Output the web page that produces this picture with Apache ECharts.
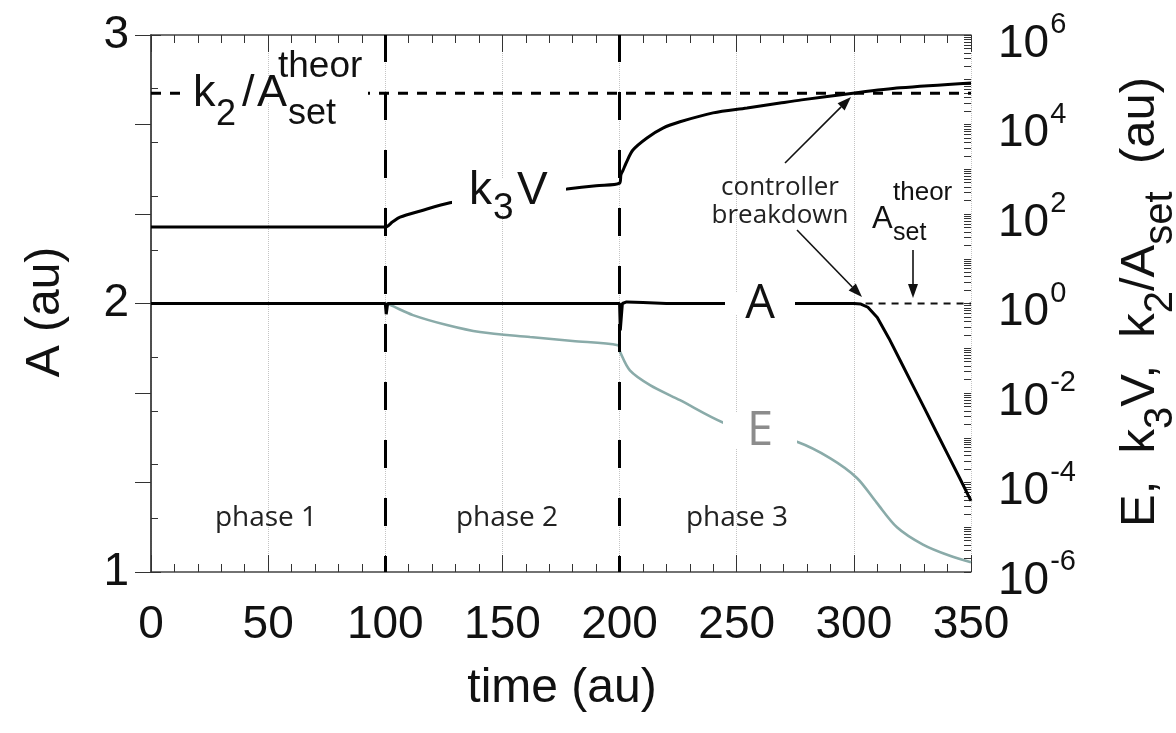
<!DOCTYPE html>
<html><head><meta charset="utf-8">
<script src="https://cdn.jsdelivr.net/npm/echarts@6/dist/echarts.min.js"></script>
<style>html,body{margin:0;padding:0;background:#fff}#c{width:1176px;height:733px}</style>
</head><body><div id="c"></div>
<script>
// ---------- data ----------
const phaseBounds = [100, 200];
const phaseNames = ['phase 1', 'phase 2', 'phase 3'];

const aTime   = [0, 100, 100.4, 101, 200, 200.3, 201.2, 203, 210, 220, 300, 303, 306, 310, 315, 320, 325, 330, 335, 340, 345, 350];
const aValues = [2, 2, 1.96, 2, 2, 1.90, 2.0, 2.006, 2.004, 2.0, 2.0, 1.998, 1.986, 1.948, 1.87, 1.784, 1.698, 1.612, 1.525, 1.439, 1.353, 1.265];

const k3vTime   = [0, 100, 103, 106.3, 115, 127.6, 140, 155, 165, 177.5, 190, 200, 200.6, 201.5, 202.8, 205.7, 211.7, 218.5, 225.8, 239.9, 254.4, 268.5, 277.7, 299.6, 319.7, 350];
const k3vValues = [51, 51, 66, 85, 117, 178, 224, 275, 309, 363, 430, 490, 760, 955, 1380, 2690, 5010, 8320, 11500, 18200, 23400, 30200, 35500, 50100, 66000, 85000];

const eTime   = [100, 102, 111.8, 126.3, 140.4, 161.8, 180, 199.3, 200.2, 204.4, 213, 225.8, 244.1, 260, 275.7, 289.8, 301.3, 309.8, 318.4, 329.5, 341, 350];
const eValues = [1, 0.93, 0.55, 0.33, 0.23, 0.178, 0.145, 0.117, 0.083, 0.032, 0.015, 0.0069, 0.0022, 0.0013, 8.1e-4, 3.5e-4, 1.26e-4, 3.5e-5, 1.0e-5, 4.1e-6, 2.3e-6, 1.66e-6];

const k2AsetTheorTime = [0, 350];
const k2AsetTheorValues = [5.0e4, 5.0e4];
const asetTheorTime = [305, 350];
const asetTheorValues = [2, 2];

const xTickInterval = 50;
const leftTicks = [1, 2, 3];
// ---------------------------------------------------

const SANS = "'Liberation Sans', Arial, Helvetica, sans-serif";
const HUM = "'Open Sans', 'Noto Sans', sans-serif";
const zip = (a, b) => a.map((v, i) => [v, b[i]]);

const chart = echarts.init(document.getElementById('c'), null, {renderer: 'canvas'});

function T(x, y, text, size, opts) {
  opts = opts || {};
  return {
    type: 'text', x: x, y: y, z: 50, rotation: opts.rotation || 0,
    style: {
      text: text, fontSize: size, fontFamily: opts.family || SANS, fill: opts.color || '#111',
      align: opts.align || 'left', verticalAlign: 'middle',
      textAlign: opts.align || 'left', textVerticalAlign: 'middle', rich: opts.rich
    }
  };
}
function R(x, y, w, h) {
  return {type: 'rect', z: 40, shape: {x: x, y: y, width: w, height: h}, style: {fill: '#fff'}};
}
function arrow(x1, y1, x2, y2) {
  const dx = x2 - x1, dy = y2 - y1, L = Math.hypot(dx, dy), ux = dx / L, uy = dy / L;
  const hl = 14, hw = 5;
  const bx = x2 - ux * hl, by = y2 - uy * hl;
  return [
    {type: 'line', z: 45, shape: {x1: x1, y1: y1, x2: bx, y2: by}, style: {stroke: '#111', lineWidth: 1.6}},
    {type: 'polygon', z: 45, shape: {points: [[x2, y2], [bx - uy * hw, by + ux * hw], [bx + uy * hw, by - ux * hw]]}, style: {fill: '#111'}}
  ];
}

const sub = {fontSize: 40, fontFamily: SANS, color: '#111', padding: [42, 0, 0, 0]};
const main = {fontSize: 49, fontFamily: SANS, color: '#111'};

const graphics = [
  // k2/Aset theor label (gap in dashed line)
  R(183, 84, 185, 18),
  T(193, 94, 'k', 45),
  T(216, 115, '2', 36),
  T(242, 94, '/', 45),
  T(257, 94, 'A', 45),
  T(288, 114, 'set', 36),
  T(278, 67, 'theor', 37),
  // k3V label
  R(452, 178, 114, 34),
  T(469, 191, 'k', 46),
  T(493, 209, '3', 37),
  T(517, 191, 'V', 46),
  // A label
  R(725, 292, 70, 22),
  T(760, 305, 'A', 47, {family: HUM, align: 'center'}),
  // E label
  R(723, 412, 74, 36),
  T(760, 432, 'E', 47, {family: HUM, align: 'center', color: '#8c8c8c'}),
  // phases
  T(266, 518, phaseNames[0], 28, {family: HUM, align: 'center', color: '#222'}),
  T(507, 518, phaseNames[1], 28, {family: HUM, align: 'center', color: '#222'}),
  T(737, 518, phaseNames[2], 28, {family: HUM, align: 'center', color: '#222'}),
  // controller breakdown
  T(780, 188, 'controller', 26, {family: HUM, align: 'center', color: '#222'}),
  T(780, 216, 'breakdown', 26, {family: HUM, align: 'center', color: '#222'}),
  // Aset theor label
  T(872, 219, 'A', 31),
  T(893, 233, 'set', 25),
  T(893, 193, 'theor', 26),
  // axis names
  T(562, 689, 'time (au)', 48, {align: 'center'}),
  T(46, 312, 'A (au)', 48, {align: 'center', rotation: Math.PI / 2}),
  T(1140, 302, '{m|E,  k}{s|3}{m|V,  k}{s|2}{m|/A}{s|set}{m|  (au)}', 49, {align: 'center', rotation: Math.PI / 2, rich: {m: main, s: sub}})
].concat(arrow(785, 163, 851, 97), arrow(797, 230, 862, 297), arrow(913, 250, 913, 298));

const axisLineStyle = {color: '#444', width: 1.5};
const tickStyle = {color: '#333', width: 1};

const option = {
  animation: false,
  backgroundColor: '#fff',
  grid: {left: 151, top: 35, width: 820, height: 537, containLabel: false},
  xAxis: [
    {
      type: 'value', min: 0, max: 350, interval: xTickInterval, position: 'bottom',
      axisLine: {lineStyle: axisLineStyle},
      axisTick: {inside: true, length: 17, lineStyle: tickStyle},
      minorTick: {show: true, splitNumber: 5, length: 8, lineStyle: tickStyle},
      splitLine: {show: true, lineStyle: {type: 'dotted', color: '#c4c4c4', width: 1}},
      axisLabel: {fontSize: 46, fontFamily: SANS, color: '#111', margin: 30}
    },
    {
      type: 'value', min: 0, max: 350, interval: xTickInterval, position: 'top',
      axisLine: {lineStyle: axisLineStyle},
      axisTick: {inside: true, length: 17, lineStyle: tickStyle},
      minorTick: {show: true, splitNumber: 5, length: 8, lineStyle: tickStyle},
      splitLine: {show: false}, axisLabel: {show: false}
    }
  ],
  yAxis: [
    {
      type: 'value', min: leftTicks[0], max: leftTicks[leftTicks.length - 1], interval: 1, position: 'left',
      axisLine: {show: true, lineStyle: axisLineStyle},
      axisTick: {inside: true, length: 10, lineStyle: tickStyle},
      minorTick: {show: true, splitNumber: 5, length: 7, lineStyle: tickStyle},
      splitLine: {show: false},
      axisLabel: {fontSize: 46, fontFamily: SANS, color: '#111', margin: 22, padding: [18, 0, 0, 0]}
    },
    {
      type: 'log', logBase: 10, min: 1e-6, max: 1e6, interval: 2, position: 'right',
      axisLine: {show: true, lineStyle: axisLineStyle},
      axisTick: {inside: true, length: 16, lineStyle: tickStyle},
      splitLine: {show: false},
      axisLabel: {
        margin: 27, padding: [18, 0, 0, 0],
        formatter: function (v) { const e = Math.round(Math.log10(v)); return '{b|10}{s|' + e + '}'; },
        rich: {
          b: {fontSize: 46, fontFamily: SANS, color: '#111'},
          s: {fontSize: 29, fontFamily: SANS, color: '#111', padding: [0, 0, 38, 1]}
        }
      }
    },
    {
      type: 'log', logBase: 10, min: 1e-6, max: 1e6, interval: 1, position: 'right',
      axisLine: {show: false},
      axisTick: {inside: true, length: 7, lineStyle: tickStyle},
      minorTick: {show: true, splitNumber: 9, length: 7, lineStyle: tickStyle},
      splitLine: {show: false}, minorSplitLine: {show: false},
      axisLabel: {show: false}
    }
  ],
  series: [
    {
      name: 'k2/Aset theor', type: 'line', xAxisIndex: 0, yAxisIndex: 1, symbol: 'none',
      data: zip(k2AsetTheorTime, k2AsetTheorValues),
      lineStyle: {color: '#000', width: 3, type: [10, 9]}, z: 3
    },
    {
      name: 'Aset theor', type: 'line', xAxisIndex: 0, yAxisIndex: 0, symbol: 'none',
      data: zip(asetTheorTime, asetTheorValues),
      lineStyle: {color: '#111', width: 2, type: [7, 6]}, z: 3
    },
    {
      name: 'E', type: 'line', xAxisIndex: 0, yAxisIndex: 1, symbol: 'none',
      smooth: 0.3,
      data: zip(eTime, eValues),
      lineStyle: {color: '#8aaba9', width: 2.6}, z: 4
    },
    {
      name: 'k3V', type: 'line', xAxisIndex: 0, yAxisIndex: 1, symbol: 'none',
      smooth: 0.3,
      data: zip(k3vTime, k3vValues),
      lineStyle: {color: '#000', width: 3}, z: 5
    },
    {
      name: 'A', type: 'line', xAxisIndex: 0, yAxisIndex: 0, symbol: 'none',
      data: zip(aTime, aValues),
      lineStyle: {color: '#000', width: 3}, z: 6,
      markLine: {
        silent: true, symbol: ['none', 'none'], label: {show: false},
        lineStyle: {color: '#000', width: 3, type: [28, 30], dashOffset: 12},
        data: phaseBounds.map(v => ({xAxis: v}))
      }
    }
  ],
  graphic: {elements: graphics}
};
chart.setOption(option);
</script>
</body></html>
